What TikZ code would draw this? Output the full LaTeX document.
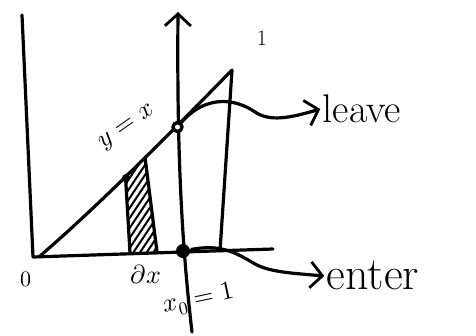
\documentclass[tikz,border=0pt]{standalone}
\usepackage{unicode-math}
\usetikzlibrary{arrows.meta}

\begin{document}
\begin{tikzpicture}[x=1pt, y=-1pt, line width=3.2pt, line cap=round, line join=round,
  hand/.style={-{Straight Barb[length=12pt, width=26pt, line width=2.8pt]}},
  ring/.style={circle, draw, fill=white, line width=3.4pt, inner sep=0pt, minimum size=9pt},
  blob/.style={circle, fill=black, inner sep=0pt, minimum size=14pt},
  word/.style={inner sep=1pt},
  mathlbl/.style={font=\fontsize{26}{30}\selectfont, inner sep=0pt}]
  \useasboundingbox (0,0) rectangle (476,335);

  % axes and the line y = x
  \coordinate (O) at (40,256);
  \coordinate (T) at (232,70);
  \draw (22,15) -- (33,257) -- (273,249);
  \draw (O) .. controls (90,213) and (154,150) .. (T) -- (220,251);

  % strip of width dx
  \begin{scope}
    \clip (125.5,176.5) -- (130,253) -- (157,252) -- (145,157) -- cycle;
    \foreach \k in {0,...,14}
      \draw[line width=2pt] (115,170+\k*10) -- (165,95+\k*10);
  \end{scope}
  \draw (125.5,176.5) -- (130,253);
  \draw (145,157) -- (157,252);
  \fill (126,178) circle (4pt);

  % vertical axis through x_0
  \coordinate (AB) at (192,332);
  \coordinate (AT) at (178,12);
  \draw[hand] (AB) .. controls (180,230) and (177,130) .. (AT);

  \node[ring] (lv) at (177.5,127) {};
  \node[blob] (en) at (183,251) {};

  % labels
  \node[word, font=\fontsize{40}{44}\selectfont] (leave) at (362,109) {leave};
  \node[word, font=\fontsize{46}{50}\selectfont] (enter) at (373,276) {enter};
  \draw[hand] (lv) .. controls (205,95) and (235,98) .. (255,112) .. controls (270,122) and (290,118) .. (leave.west);
  \draw[hand] (en) .. controls (220,244) and (235,252) .. (255,264) .. controls (270,272) and (290,273) .. (enter.west);

  \node[mathlbl, rotate=35] (yx) at (128,128) {$y = x$};
  \node[mathlbl] (dx) at (146,274) {$\partial x$};
  \node[mathlbl, rotate=12] (x0) at (199,300) {$x_0 = 1$};
  \node[font=\fontsize{22}{24}\selectfont] (zero) at (26,279) {$0$};
  \node[font=\fontsize{22}{24}\selectfont] (one) at (262,38) {1};
\end{tikzpicture}
\end{document}
